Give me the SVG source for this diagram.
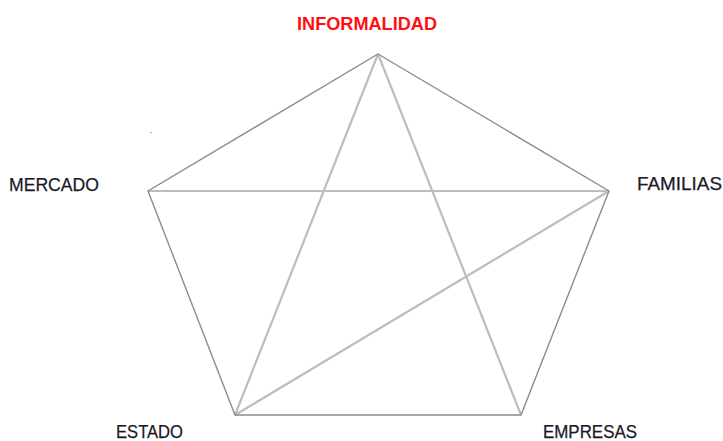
<svg xmlns="http://www.w3.org/2000/svg" width="723" height="441" viewBox="0 0 723 441">
<style>
.lbl{font-family:"Liberation Sans",Arial,sans-serif;font-size:18px;fill:#1a1a28;stroke:#1a1a28;stroke-width:0.25;}
.title{font-family:"Liberation Sans",Arial,sans-serif;font-size:18px;font-weight:bold;fill:#ff1010;}
.outer{stroke:#8c8c8c;stroke-width:1.4;fill:none;}
.inner{stroke:#bdbdbd;stroke-width:2.2;fill:none;}
</style>
<rect width="723" height="441" fill="#ffffff"/>
<g id="connectors">
<line class="inner" x1="148" y1="191" x2="609" y2="191"/>
<line class="inner" x1="378" y1="54" x2="235" y2="415"/>
<line class="inner" x1="378" y1="54" x2="521" y2="415"/>
<line class="inner" x1="609" y1="191" x2="235" y2="415"/>
<polygon class="outer" points="378,54 609,191 521,415 235,415 148,191"/>
</g>
<g id="informalidad"><text class="title" x="297" y="30" textLength="140" lengthAdjust="spacingAndGlyphs">INFORMALIDAD</text></g>
<g id="mercado"><text class="lbl" x="9" y="191" textLength="90" lengthAdjust="spacingAndGlyphs">MERCADO</text></g>
<g id="familias"><text class="lbl" x="637" y="190" textLength="85" lengthAdjust="spacingAndGlyphs">FAMILIAS</text></g>
<g id="estado"><text class="lbl" x="116" y="438" textLength="67" lengthAdjust="spacingAndGlyphs">ESTADO</text></g>
<g id="empresas"><text class="lbl" x="543" y="438" textLength="94" lengthAdjust="spacingAndGlyphs">EMPRESAS</text></g>
<rect x="150" y="132" width="2" height="1" fill="#c9a58a"/>
</svg>
